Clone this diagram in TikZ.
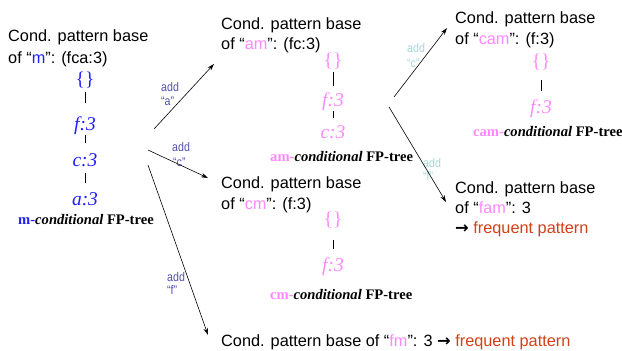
\documentclass[tikz,border=0pt]{standalone}
\usepackage{fontspec}
\setmainfont{Liberation Serif}
\setsansfont{Liberation Sans}
\newfontfamily\arrowfont{DejaVu Sans}
\newfontfamily\narrowsans[FakeStretch=0.85]{Liberation Sans}
\usetikzlibrary{arrows.meta}

\definecolor{itemblue}{RGB}{30,30,255}
\definecolor{itempink}{RGB}{255,136,255}
\definecolor{addslate}{RGB}{80,80,175}
\definecolor{addcyan}{RGB}{165,215,215}
\definecolor{freqred}{RGB}{210,64,24}

\newcommand{\emptyroot}{{\upshape\{\}}}
\newcommand{\impl}{{\arrowfont\bfseries →}}

\tikzset{
  body/.style={font=\sffamily\fontsize{16.3}{19}\selectfont, anchor=base west, inner sep=0pt},
  treenode/.style={font=\rmfamily\itshape\fontsize{19.5}{22}\selectfont, anchor=base, inner sep=0pt,
                   text height=13.5pt, text depth=4pt},
  treecap/.style={font=\rmfamily\bfseries\fontsize{14.6}{17}\selectfont, anchor=base west, inner sep=0pt},
  addlbl/.style={font=\narrowsans\fontsize{12.5}{14}\selectfont, anchor=base west, inner sep=0pt},
  stem/.style={draw=black, line width=1pt},
  link/.style={draw=black, line width=0.6pt, -{Stealth[length=7pt,width=4.5pt]}},
}

\begin{document}
\begin{tikzpicture}[x=1pt, y=-1pt]
\useasboundingbox (0,0) rectangle (622,351);

% ---- m ----
\node[body] (mh1) at (8,41) {Cond. pattern base};
\node[body] (mh2) at (8,63) {of “\textcolor{itemblue}{m}”: (fca:3)};
\node[treenode, text=itemblue] (m0) at (85,85) {\emptyroot};
\node[treenode, text=itemblue] (m1) at (85,130) {f:3};
\node[treenode, text=itemblue] (m2) at (85,166) {c:3};
\node[treenode, text=itemblue] (m3) at (85,205) {a:3};
\draw[stem, shorten <=3pt, shorten >=13.5pt] (m0.south) -- (m1.north);
\draw[stem, shorten <=1pt, shorten >=9.5pt] (m1.south) -- (m2.north);
\draw[stem, shorten <=3pt, shorten >=8.5pt] (m2.south) -- (m3.north);
\node[treecap] (mcap) at (18,224) {\textcolor{itemblue}{m-}\textit{conditional} FP-tree};

% ---- am ----
\node[body] (amh1) at (221,29) {Cond. pattern base};
\node[body] (amh2) at (221,49) {of “\textcolor{itempink}{am}”: (fc:3)};
\node[treenode, text=itempink] (am0) at (333,66) {\emptyroot};
\node[treenode, text=itempink] (am1) at (333,106) {f:3};
\node[treenode, text=itempink] (am2) at (333,138) {c:3};
\draw[stem, shorten <=2pt, shorten >=6.8pt] (am0.south) -- (am1.north);
\draw[stem, shorten <=0.7pt, shorten >=6.2pt] (am1.south) -- (am2.north);
\node[treecap] (amcap) at (270,161) {\textcolor{itempink}{am-}\textit{conditional} FP-tree};

% ---- cam ----
\node[body] (camh1) at (455,23) {Cond. pattern base};
\node[body] (camh2) at (455,44) {of “\textcolor{itempink}{cam}”: (f:3)};
\node[treenode, text=itempink] (cam0) at (541,67) {\emptyroot};
\node[treenode, text=itempink] (cam1) at (541,113) {f:3};
\draw[stem, shorten <=9pt, shorten >=8.5pt] (cam0.south) -- (cam1.north);
\node[treecap] (camcap) at (473,136) {\textcolor{itempink}{cam-}\textit{conditional} FP-tree};

% ---- fam ----
\node[body] (famh1) at (455,193) {Cond. pattern base};
\node[body] (famh2) at (455,213) {of “\textcolor{itempink}{fam}”: 3};
\node[body] (famh3) at (455,233) {\impl{} \textcolor{freqred}{frequent pattern}};

% ---- cm ----
\node[body] (cmh1) at (221,188) {Cond. pattern base};
\node[body] (cmh2) at (221,209) {of “\textcolor{itempink}{cm}”: (f:3)};
\node[treenode, text=itempink] (cm0) at (333,225) {\emptyroot};
\node[treenode, text=itempink] (cm1) at (333,271) {f:3};
\draw[stem, shorten <=11pt, shorten >=8.5pt] (cm0.south) -- (cm1.north);
\node[treecap] (cmcap) at (270,299) {\textcolor{itempink}{cm-}\textit{conditional} FP-tree};

% ---- fm ----
\node[body] (fmh) at (221,346) {Cond. pattern base of “\textcolor{itempink}{fm}”: 3 \impl{} \textcolor{freqred}{frequent pattern}};

% ---- extension arrows ----
\coordinate (sa) at (154,129);  \coordinate (ea) at (214,64);
\coordinate (sc) at (148,150);  \coordinate (ec) at (208,178);
\coordinate (sf) at (148,165);  \coordinate (ef) at (208,335);
\coordinate (sac) at (394,97);  \coordinate (eac) at (447,28);
\coordinate (saf) at (389,107); \coordinate (eaf) at (446,202);

\node[addlbl, text=addslate] (la1) at (161,91) {add};
\node[addlbl, text=addslate] (la2) at (161,105) {“a”};
\node[addlbl, text=addslate] (lc1) at (172,151) {add};
\node[addlbl, text=addslate] (lc2) at (173,166) {“c”};
\node[addlbl, text=addslate] (lf1) at (167,281) {add};
\node[addlbl, text=addslate] (lf2) at (167,294) {“f”};
\node[addlbl, text=addcyan] (lac1) at (407,52) {add};
\node[addlbl, text=addcyan] (lac2) at (407,67) {“c”};
\node[addlbl, text=addcyan] (laf1) at (423,167) {add};
\node[addlbl, text=addcyan] (laf2) at (423,180) {“f”};

\draw[link] (sa) -- (ea);
\draw[link] (sc) -- (ec);
\draw[link] (sf) -- (ef);
\draw[link] (sac) -- (eac);
\draw[link] (saf) -- (eaf);
\end{tikzpicture}
\end{document}
